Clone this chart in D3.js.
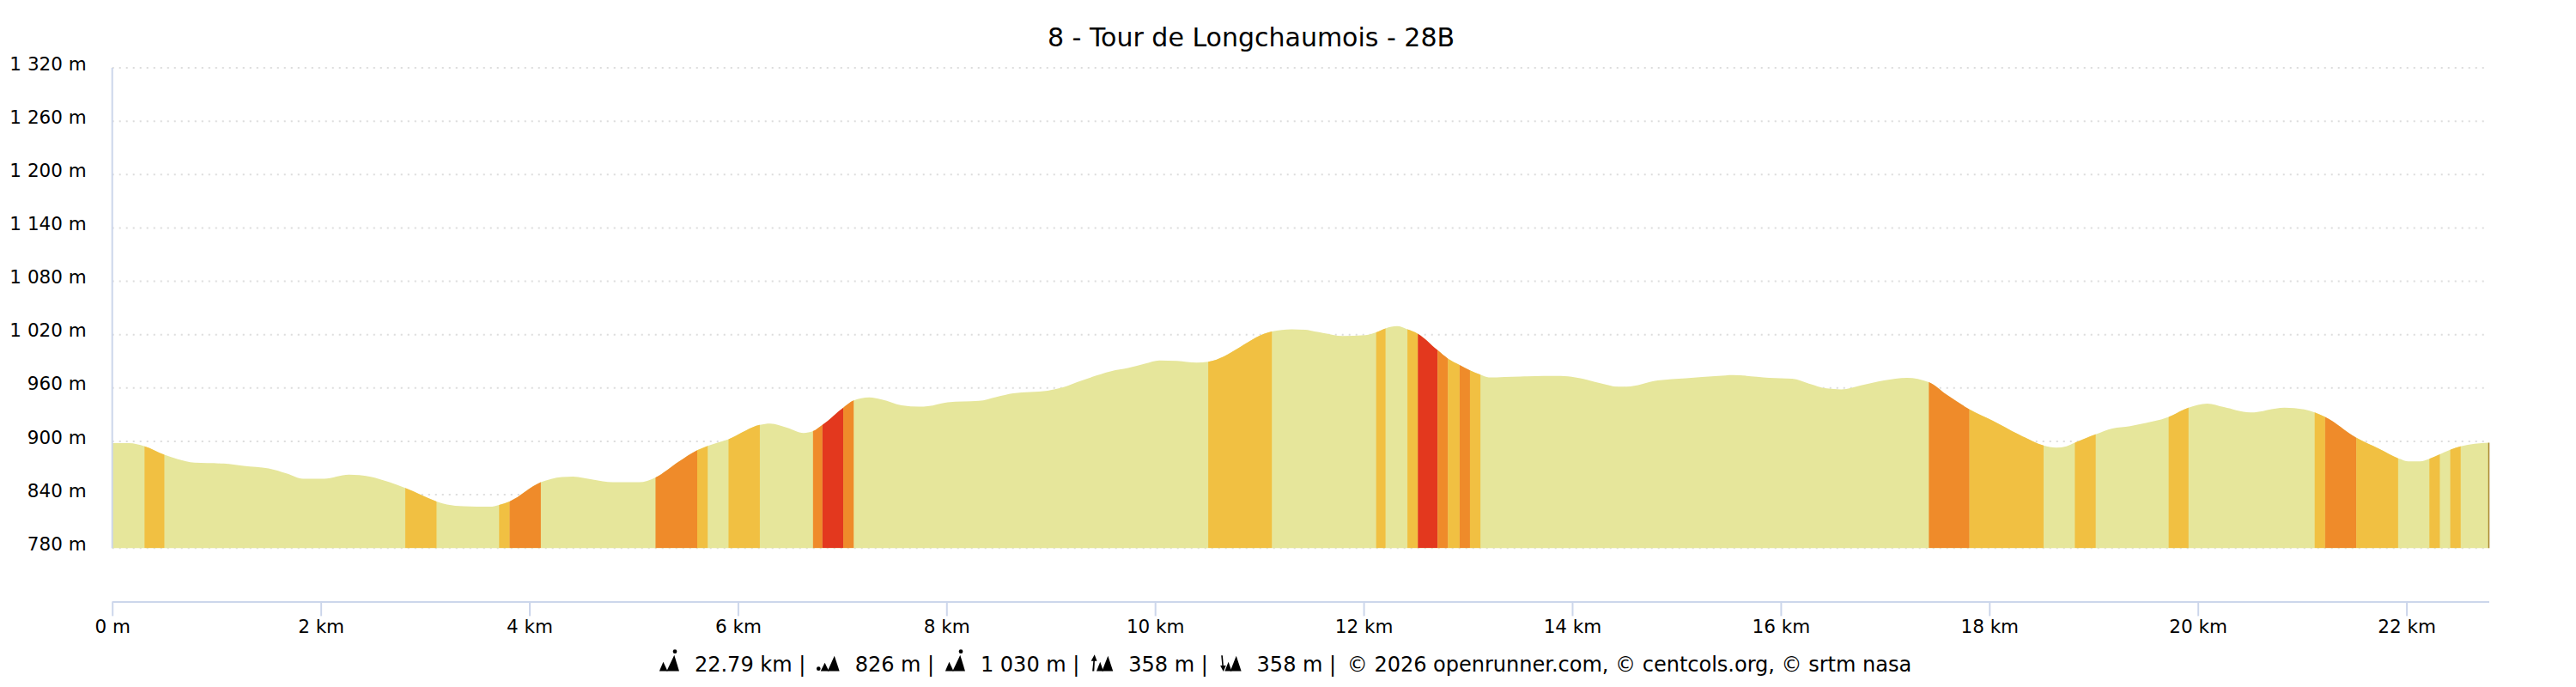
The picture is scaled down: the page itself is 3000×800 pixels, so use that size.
<!DOCTYPE html>
<html>
<head>
<meta charset="utf-8">
<script src="https://cdn.jsdelivr.net/npm/d3@7"></script>
<style>
body { margin: 0; background: #fff; }
svg { display: block; font-family: "DejaVu Sans", sans-serif; }
</style>
</head>
<body>
<div id="chart"></div>
<script>
var chartTitle = "8 - Tour de Longchaumois - 28B"

// profile: distance (km) and elevation (m)
var distKm = [0.00, 0.16, 0.31, 0.50, 0.63, 0.79, 1.07, 1.26, 1.50, 1.67, 1.83, 2.03, 2.27, 2.47, 2.66,
    2.81, 3.11, 3.21, 3.37, 3.62, 3.71, 3.81, 4.11, 4.31, 4.42, 4.61, 4.80, 5.05, 5.21, 5.43, 5.61,
    5.71, 5.91, 6.21, 6.31, 6.47, 6.63, 6.72, 6.81, 7.01, 7.11, 7.26, 7.38, 7.57, 7.74, 7.82, 8.01,
    8.31, 8.48, 8.64, 8.97, 9.11, 9.30, 9.58, 9.74, 9.91, 10.04, 10.21, 10.40, 10.51, 11.12, 11.31,
    11.44, 11.53, 11.61, 11.80, 12.02, 12.12, 12.21, 12.32, 12.42, 12.52, 12.71, 12.81, 12.92, 13.02,
    13.12, 13.20, 13.50, 13.89, 14.03, 14.27, 14.44, 14.52, 14.82, 15.09, 15.40, 15.54, 15.89, 16.11,
    16.27, 16.44, 16.58, 16.77, 16.99, 17.21, 17.42, 17.59, 17.81, 18.03, 18.28, 18.52, 18.64, 18.74,
    18.82, 19.02, 19.18, 19.35, 19.43, 19.72, 19.91, 20.09, 20.25, 20.50, 20.83, 21.02, 21.12, 21.22,
    21.52, 21.74, 21.92, 22.02, 22.13, 22.22, 22.32, 22.42, 22.52, 22.79]
var elevM = [898, 898, 894.5, 885, 880, 876, 875, 872.5, 869.5, 864, 858, 858, 862.5, 860.5, 854,
    847.5, 832.5, 829, 827, 826.5, 828.5, 832.5, 854, 860, 860.5, 857, 854, 854, 859.5, 877, 890,
    895, 902.5, 918.5, 920, 915.5, 909.5, 911.5, 918.5, 938, 946, 949.5, 947, 940.5, 939, 939.5, 944,
    945.5, 950, 954, 957, 960.5, 968.5, 979, 982.5, 987.5, 991, 990.5, 988.5, 989.5, 1023.5, 1026,
    1025.5, 1023.5, 1022, 1018.5, 1019.5, 1022.5, 1027, 1029.5, 1026, 1021, 1002.5, 993, 986, 980,
    975, 972, 973, 973.5, 972, 965.5, 961.5, 961.5, 968.5, 971, 973.5, 974.5, 971.5, 970.5,
    965, 959.5, 958.5, 963, 968.5, 971.5, 966.5, 952.5, 936, 923.5, 908, 895.5, 893, 894.5,
    898.5, 908, 914.5, 917, 919, 927.5, 938, 942.5, 938.5, 932.5, 938, 936, 932.5, 927.5,
    904, 891.5, 881, 877.5, 877.5, 880.5, 885.5, 890.5, 894.5, 898.5]

// slope bands: from / to (km), level 1 = 5-10 %, 2 = 10-15 %, 3 = 15 % +
var bandFrom = [0.31, 2.81, 3.71, 3.81, 5.21, 5.61, 5.91, 6.72, 6.81, 7.01, 10.51, 12.12, 12.42, 12.52,
    12.71, 12.81, 12.92, 13.02, 17.42, 17.81, 18.82, 19.72, 21.12, 21.22, 21.52, 22.22, 22.42]
var bandTo = [0.50, 3.11, 3.81, 4.11, 5.61, 5.71, 6.21, 6.81, 7.01, 7.11, 11.12, 12.21, 12.52, 12.71,
    12.81, 12.92, 13.02, 13.12, 17.81, 18.52, 19.02, 19.91, 21.22, 21.52, 21.92, 22.32, 22.52]
var bandLevel = [1, 1, 1, 2, 2, 1, 1, 2, 3, 2, 1, 1, 1, 3,
    2, 1, 2, 1, 2, 1, 1, 1, 1, 2, 1, 1, 1]
var levelColors = ["#e6e69b", "#f1c042", "#ef8b2a", "#e3381e"]

var yTicks = [780, 840, 900, 960, 1020, 1080, 1140, 1200, 1260, 1320]
var xTicks = [0, 2, 4, 6, 8, 10, 12, 14, 16, 18, 20, 22]

var footerIcons = ["dist", "min", "max", "up", "down"]
var footerValues = ["22.79 km", "826 m", "1 030 m", "358 m", "358 m"]
var credits = "\u00a9 2026 openrunner.com, \u00a9 centcols.org, \u00a9 srtm nasa"

var width = 3000
var height = 800
var baseElev = 780
var axisColor = "#ccd6eb"

var svg = d3.select("#chart").append("svg")
    .attr("width", width)
    .attr("height", height)

var x = d3.scaleLinear().domain([0, 22.79]).range([130.7, 2898.5])
var y = d3.scaleLinear().domain([720, 1320]).range([700.4, 79])

var fmt = d3.formatLocale({decimal: ".", thousands: " ", grouping: [3], currency: ["", ""]}).format(",")

svg.append("text")
    .attr("x", 1457)
    .attr("y", 53.5)
    .attr("text-anchor", "middle")
    .attr("font-size", 30)
    .attr("fill", "#000")
    .text(chartTitle)

// grid
svg.append("g").selectAll("line")
    .data(yTicks)
    .join("line")
    .attr("x1", x(0))
    .attr("x2", x(22.79))
    .attr("y1", d => y(d))
    .attr("y2", d => y(d))
    .attr("stroke", "#dcdcdc")
    .attr("stroke-width", 2)
    .attr("stroke-dasharray", "2,6")

// profile
var points = distKm.map((d, i) => [d, elevM[i]])
var area = d3.area()
    .x(d => x(d[0]))
    .y0(y(baseElev))
    .y1(d => y(d[1]))
    .curve(d3.curveMonotoneX)

svg.append("clipPath")
    .attr("id", "profile-clip")
    .append("path")
    .attr("d", area(points))

svg.append("path")
    .attr("d", area(points))
    .attr("fill", levelColors[0])

svg.append("g")
    .attr("clip-path", "url(#profile-clip)")
    .selectAll("rect")
    .data(bandFrom)
    .join("rect")
    .attr("x", d => x(d))
    .attr("width", (d, i) => x(bandTo[i]) - x(d))
    .attr("y", y(1320))
    .attr("height", y(baseElev) - y(1320))
    .attr("fill", (d, i) => levelColors[bandLevel[i]])

var last = points[points.length - 1]
svg.append("line")
    .attr("x1", x(last[0]))
    .attr("x2", x(last[0]))
    .attr("y1", y(last[1]))
    .attr("y2", y(baseElev))
    .attr("stroke", "#a8842e")
    .attr("stroke-width", 1.5)

// y axis
var yAxis = svg.append("g")
    .attr("transform", "translate(" + x(0) + ",0)")
    .call(d3.axisLeft(y).tickValues(yTicks).tickSize(0).tickPadding(30)
        .tickFormat(d => fmt(d) + " m"))
yAxis.select(".domain").remove()
yAxis.selectAll("text")
    .attr("dy", "0.1em")
    .attr("font-size", 21.5)
    .attr("font-family", "DejaVu Sans")
    .attr("fill", "#000")
yAxis.append("line")
    .attr("y1", y(1320))
    .attr("y2", y(baseElev))
    .attr("stroke", axisColor)
    .attr("stroke-width", 2)

// x axis
var xAxis = svg.append("g")
    .attr("transform", "translate(0," + y(720) + ")")
    .call(d3.axisBottom(x).tickValues(xTicks).tickSize(17).tickSizeOuter(0).tickPadding(4.7)
        .tickFormat(d => d === 0 ? "0 m" : d + " km"))
xAxis.select(".domain").attr("stroke", axisColor).attr("stroke-width", 2)
xAxis.selectAll(".tick line").attr("stroke", axisColor).attr("stroke-width", 2)
xAxis.selectAll("text")
    .attr("font-size", 21.5)
    .attr("font-family", "DejaVu Sans")
    .attr("fill", "#000")

// footer icons
function drawIcon(g, kind) {
    if (kind === "dist" || kind === "max") {
        g.append("path").attr("d", "M0,0L4.3,-10L9,0Z")
        g.append("path").attr("d", "M8,0L16.3,-17.5L21.6,0Z")
        g.append("circle").attr("cx", 17).attr("cy", -21.3).attr("r", 2.2)
        return 21.6
    }
    if (kind === "min") {
        g.append("circle").attr("cx", 2.2).attr("cy", -2.6).attr("r", 2.2)
        g.append("path").attr("d", "M4.5,0L9,-9L13.5,0Z")
        g.append("path").attr("d", "M12,0L19.5,-16.5L25,0Z")
        return 25
    }
    var up = kind === "up"
    g.append("path").attr("d", up ? "M2,0L3.2,-12L4.6,-12L4,0Z" : "M2.6,-17L3.8,-5L5.2,-5L4.2,-17Z")
    g.append("path").attr("d", up ? "M0.6,-11L4.4,-18L7,-11Z" : "M1.6,-6L5,0.5L7.8,-6Z")
    g.append("path").attr("d", "M6.5,0L10.5,-10L14,0Z")
    g.append("path").attr("d", "M12.5,0L19,-16.5L24.5,0Z")
    return 24.5
}

var footer = svg.append("g")
var cursor = 0
var footerBase = 781.5
var iconScale = 1.07
footerValues.forEach(function(v, i) {
    var g = footer.append("g")
        .attr("transform", "translate(" + cursor + "," + footerBase + ") scale(" + iconScale + ")")
        .attr("fill", "#000")
    var w = drawIcon(g, footerIcons[i]) * iconScale
    cursor += w + 18
    var t = footer.append("text")
        .attr("x", cursor)
        .attr("y", footerBase)
        .attr("font-size", 24)
        .attr("fill", "#000")
        .attr("xml:space", "preserve")
        .style("white-space", "pre")
        .text(v + " | ")
    cursor += t.node().getComputedTextLength() + 5
})
var ct = footer.append("text")
    .attr("x", cursor)
    .attr("y", footerBase)
    .attr("font-size", 24)
    .attr("fill", "#000")
    .text(credits)
cursor += ct.node().getComputedTextLength()
footer.attr("transform", "translate(" + (1497 - cursor / 2) + ",0)")
</script>
</body>
</html>
